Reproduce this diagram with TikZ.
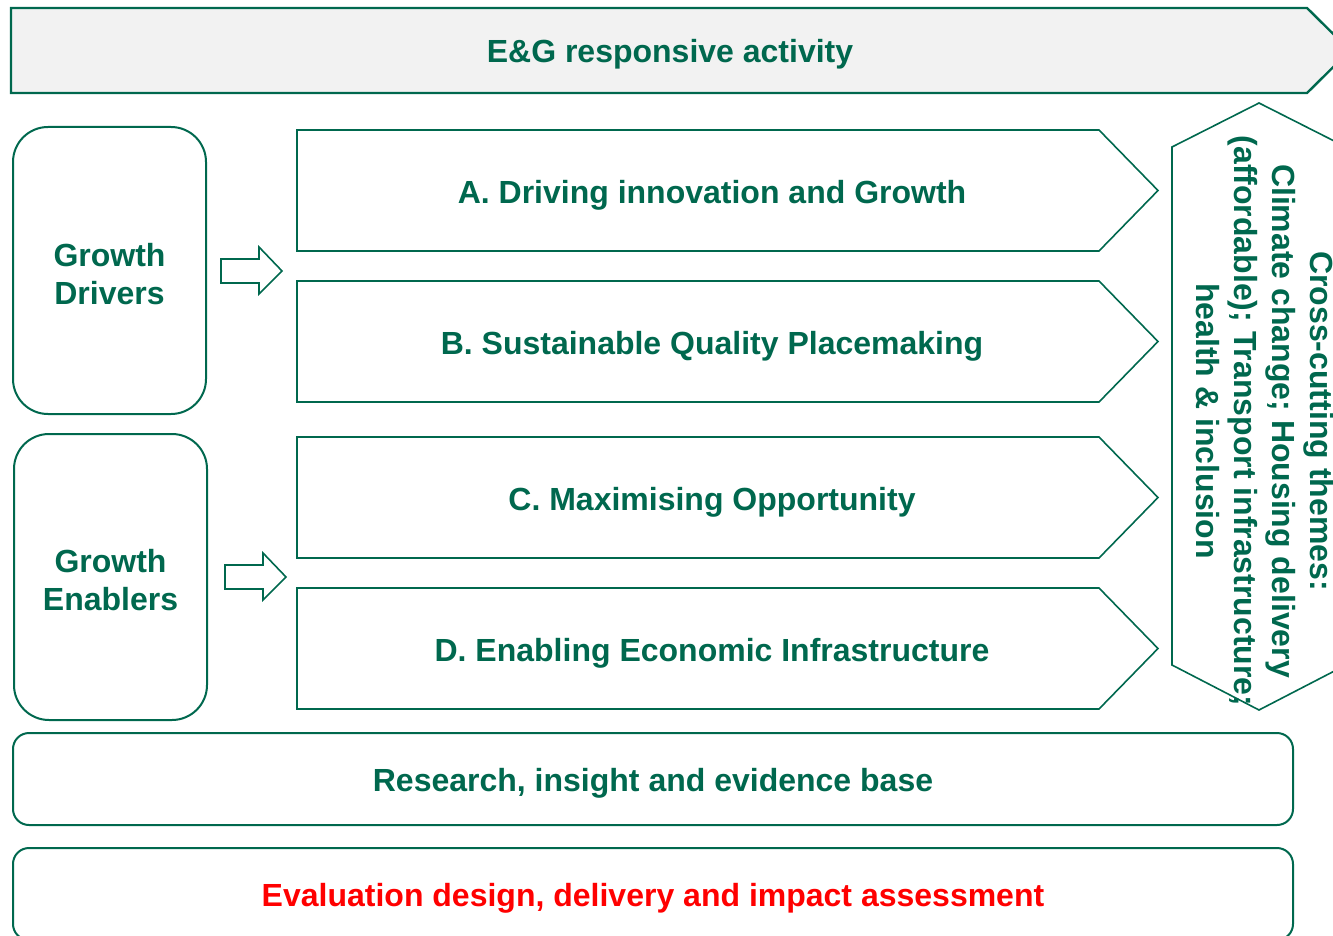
\documentclass[tikz,border=0pt]{standalone}
\usepackage{fontspec}
\setmainfont{Liberation Sans}
\definecolor{eg}{RGB}{0,104,78}
\definecolor{bannerfill}{RGB}{242,242,242}
\definecolor{evalred}{RGB}{255,0,0}
\begin{document}
\begin{tikzpicture}[x=1pt,y=-1pt,line join=miter,
  lbl/.style={font=\fontsize{32}{38}\selectfont\bfseries,text=eg,align=center},
  box/.style={draw=eg,line width=2pt},
  thin box/.style={draw=eg,line width=1.6pt},
  round box/.style={draw=eg,line width=2pt,rounded corners=35pt,minimum width=193pt,minimum height=287pt,inner sep=0pt},
  band/.style={draw=eg,line width=2pt,rounded corners=16pt,minimum width=1280pt,minimum height=92pt,inner sep=0pt}]
\useasboundingbox (0,0) rectangle (1333,936);
\clip (0,0) rectangle (1333,936);
% banner
\draw[box,line width=2.4pt,fill=bannerfill] (11,8) -- (1307,8) -- (1350,50.5) -- (1307,93) -- (11,93) -- cycle;
\node[lbl] (banner) at (670,54) {E\&G responsive activity};
% growth boxes
\draw[round box] (13,127) rectangle (206,414);
\draw[round box] (14,434) rectangle (207,720);
\node[lbl] (drivers) at (109.5,274) {Growth\\Drivers};
\node[lbl] (enablers) at (110.5,580) {Growth\\Enablers};
% pentagons
\foreach \yt/\yb in {130/251,281/402,437/558,588/709}{
  \draw[thin box] (297,\yt) -- (1099,\yt) -- (1158,{(\yt+\yb)/2}) -- (1099,\yb) -- (297,\yb) -- cycle;
}
\node[lbl] (A) at (712,195) {A. Driving innovation and Growth};
\node[lbl] (B) at (712,346) {B. Sustainable Quality Placemaking};
\node[lbl] (C) at (712,502) {C. Maximising Opportunity};
\node[lbl] (D) at (712,653) {D. Enabling Economic Infrastructure};
% block arrows
\draw[thin box] (221,259) -- (259,259) -- (259,247) -- (282,271) -- (259,294) -- (259,283) -- (221,283) -- cycle;
\draw[thin box] (225,565) -- (263,565) -- (263,553) -- (286,577) -- (263,600) -- (263,589) -- (225,589) -- cycle;
% hexagon
\draw[thin box] (1259,103) -- (1346,147) -- (1346,665) -- (1259,710) -- (1172,665) -- (1172,147) -- cycle;
\node[lbl,rotate=-90] (themes) at (1265,421) {Cross-cutting themes:\\Climate change; Housing delivery\\(affordable); Transport infrastructure;\\health \& inclusion};
% bottom bands
\draw[band] (13,733) rectangle (1293,825);
\draw[band] (13,848) rectangle (1293,940);
\node[lbl] (research) at (653,783) {Research, insight and evidence base};
\node[lbl,text=evalred] (evaluation) at (653,898) {Evaluation design, delivery and impact assessment};
\end{tikzpicture}
\end{document}
